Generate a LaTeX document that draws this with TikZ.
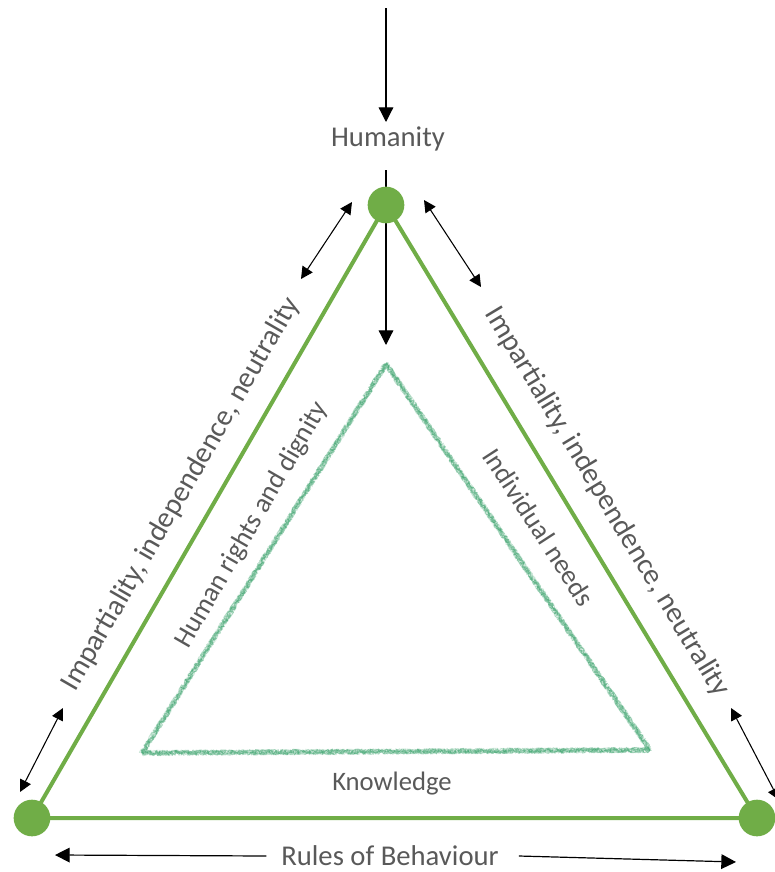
\documentclass[tikz,border=0pt]{standalone}
\usepackage{fontspec}
\setmainfont{Carlito}
\usetikzlibrary{arrows.meta,decorations.pathmorphing}
\definecolor{pgreen}{RGB}{112,173,71}
\definecolor{sketchgreen}{RGB}{55,160,105}
\definecolor{txtgrey}{RGB}{89,89,89}
\begin{document}
\begin{tikzpicture}[
                x=0.75pt, y=-0.75pt,
                every node/.style={text=txtgrey, inner sep=2pt},
                vertex/.style={circle, fill=pgreen, minimum size=27.5pt, inner sep=0pt},
                side/.style={draw=pgreen, line width=3pt},
                flow/.style={-{Triangle[length=11pt,width=11pt]}, line width=0.9pt},
                twoway/.style={{Triangle[length=9pt,width=9pt]}-{Triangle[length=9pt,width=9pt]}, line width=0.8pt},
                sketchy/.style={draw=sketchgreen, line width=0.5pt, opacity=0.25, line join=round,
                    decorate, decoration={random steps, segment length=1pt, amplitude=2.2pt}},
                biglabel/.style={font=\fontsize{22}{26}\selectfont},
                midlabel/.style={font=\fontsize{20.5}{24}\selectfont}
            ]
                \useasboundingbox (0,0) rectangle (775,872);

                % corners of the outer triangle
                \coordinate (ptop) at (386,205);
                \coordinate (pleft) at (32,818);
                \coordinate (pright) at (757,818);

                % inner sketched triangle
                \coordinate (ia) at (386,364);
                \coordinate (ib) at (142,753);
                \coordinate (ic) at (650,750);
                \foreach \k in {1,...,10}
                    \draw[sketchy] (ia) -- (ib) -- (ic) -- cycle;

                % arrows into the top
                \coordinate (src) at (386,8);
                \coordinate (humtip) at (386,122);
                \coordinate (stem) at (386,170);
                \coordinate (inner) at (386,345);
                \draw[flow] (src) -- (humtip);
                \draw[flow] (stem) -- (inner);

                % outer triangle
                \draw[side] (ptop) -- (pleft) -- (pright) -- cycle;
                \node[vertex] (top) at (ptop) {};
                \node[vertex] (left) at (pleft) {};
                \node[vertex] (right) at (pright) {};

                % two way arrows
                \coordinate (tl1) at (352,202);
                \coordinate (tl2) at (301,279);
                \coordinate (tr1) at (424,200);
                \coordinate (tr2) at (481,287);
                \coordinate (bl1) at (63,708);
                \coordinate (bl2) at (20,792);
                \coordinate (br1) at (731,708);
                \coordinate (br2) at (779,800);
                \draw[twoway] (tl1) -- (tl2);
                \draw[twoway] (tr1) -- (tr2);
                \draw[twoway] (bl1) -- (bl2);
                \draw[twoway] (br1) -- (br2);

                % labels
                \node[font=\fontsize{21.5}{25}\selectfont] (humanity) at (388,139) {Humanity};
                \node[biglabel, rotate=60] (lside) at (181,494) {Impartiality, independence, neutrality};
                \node[biglabel, rotate=-59] (rside) at (607,502) {Impartiality, independence, neutrality};
                \node[midlabel, rotate=60] (rights) at (252,525) {Human rights and dignity};
                \node[midlabel, rotate=-57] (needs) at (539,527) {Individual needs};
                \node[font=\fontsize{20}{24}\selectfont] (knowledge) at (392,784) {Knowledge};
                \node[font=\fontsize{21.5}{25}\selectfont, inner xsep=11pt, inner ysep=0pt] (rules) at (390,856) {Rules of Behaviour};

                % bottom arrows
                \coordinate (rl) at (55,855);
                \coordinate (rr) at (736,862);
                \draw[flow] (rules.west) -- (rl);
                \draw[flow] ([xshift=4pt]rules.east) -- (rr);
            \end{tikzpicture}
\end{document}
